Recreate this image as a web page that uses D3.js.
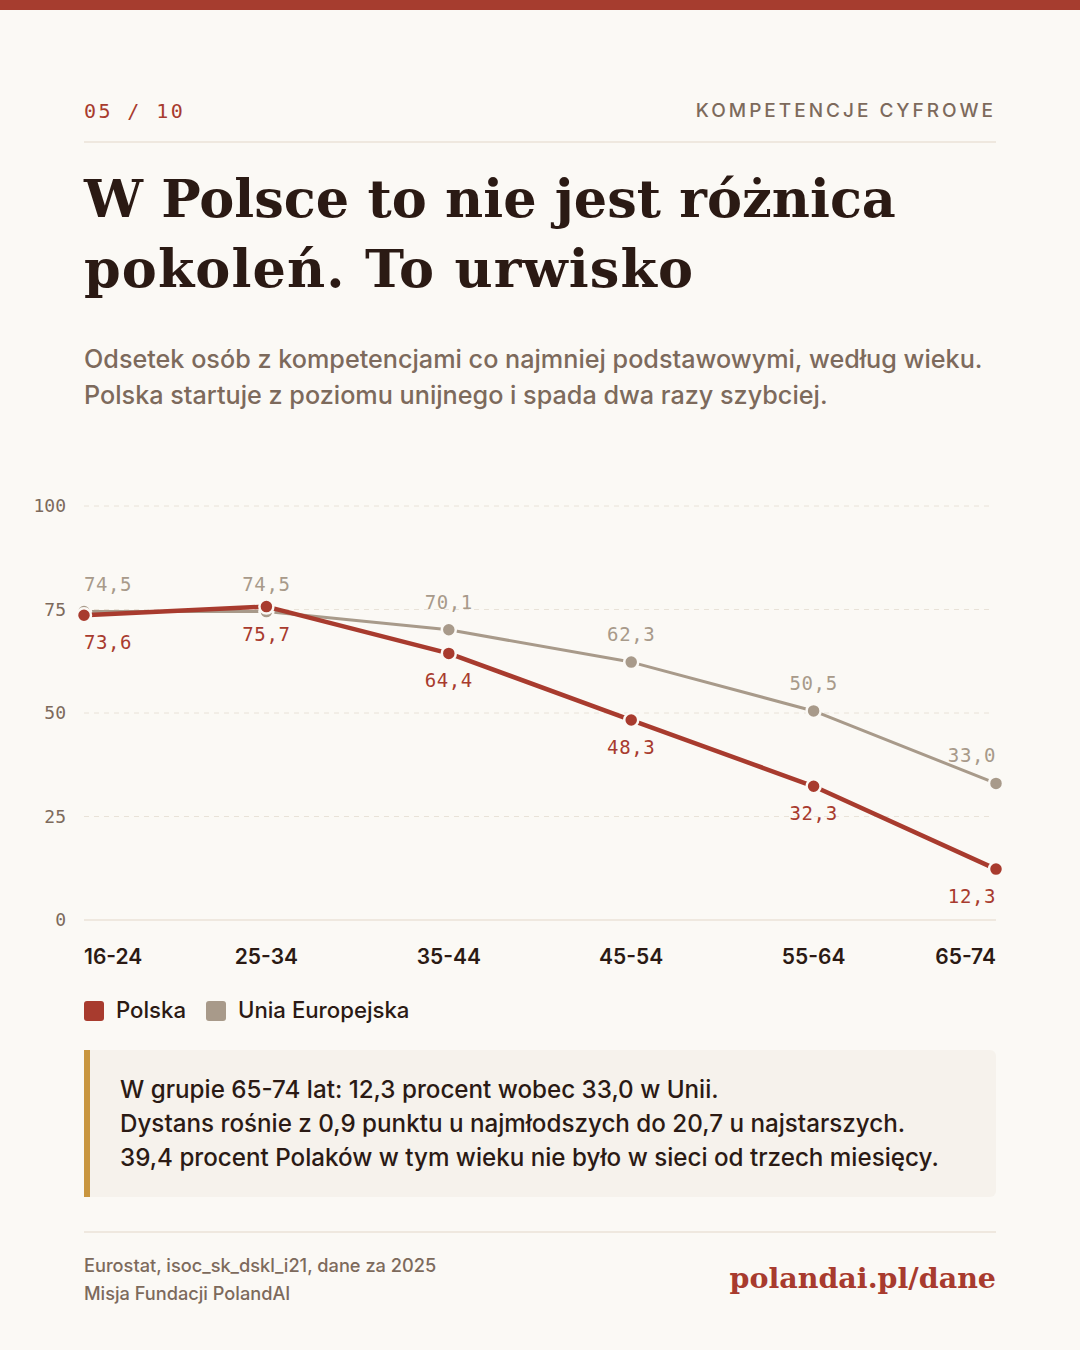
<!doctype html>
<html>
<head>
<meta charset="utf-8">
<script src="https://d3js.org/d3.v7.min.js"></script>
<style>
  html, body { margin: 0; padding: 0; background: #fbf9f5; }
  svg { display: block; }
  .mono { font-family: "DejaVu Sans Mono", monospace; }
  .sans { font-family: Inter, "Noto Sans", sans-serif; }
  .serif { font-family: "DejaVu Serif", serif; }
</style>
</head>
<body>
<svg width="1080" height="1350"></svg>
<script>
// data
const ageGroups = ["16-24", "25-34", "35-44", "45-54", "55-64", "65-74"];
const polska = [73.6, 75.7, 64.4, 48.3, 32.3, 12.3];
const unia = [74.5, 74.5, 70.1, 62.3, 50.5, 33.0];
const yTicks = [0, 25, 50, 75, 100];
const seriesNames = ["Polska", "Unia Europejska"];

const red = "#a83b2e", grey = "#a89a8a", ink = "#2b1a14", muted = "#7d6a5c";

const svg = d3.select("svg");

svg.append("rect").attr("x", 0).attr("y", 0).attr("width", 1080).attr("height", 10).attr("fill", "#a63d2f");

// header
svg.append("text").attr("class", "mono").attr("x", 84).attr("y", 118)
  .attr("font-size", 20).attr("fill", red).attr("letter-spacing", 2.4).text("05 / 10");
svg.append("text").attr("class", "sans").attr("x", 996).attr("y", 117)
  .attr("text-anchor", "end").attr("font-size", 19).attr("font-weight", 500)
  .attr("letter-spacing", 3).attr("fill", muted).text("KOMPETENCJE CYFROWE");
svg.append("line").attr("x1", 84).attr("x2", 996).attr("y1", 142).attr("y2", 142)
  .attr("stroke", "#efe8df").attr("stroke-width", 2);

// title
const titleLines = ["W Polsce to nie jest różnica", "pokoleń. To urwisko"];
const titleWidths = [812, 609];
const title = svg.append("g");
titleLines.forEach((t, i) => {
  title.append("text").attr("class", "serif").attr("x", 84).attr("y", 217 + i * 70)
    .attr("font-size", 58).attr("font-weight", 700).attr("fill", ink).text(t);
});
// fit first line to reference width, second with letter-spacing
const tnodes = title.selectAll("text").nodes();
const fs = 58 * titleWidths[0] / tnodes[0].getComputedTextLength();
title.selectAll("text").attr("font-size", fs);
const w1 = tnodes[1].getComputedTextLength();
d3.select(tnodes[1]).attr("letter-spacing", (titleWidths[1] - w1) / (titleLines[1].length - 1));

// subtitle
["Odsetek osób z kompetencjami co najmniej podstawowymi, według wieku.",
 "Polska startuje z poziomu unijnego i spada dwa razy szybciej."].forEach((t, i) => {
  svg.append("text").attr("class", "sans").attr("x", 84).attr("y", 368 + i * 36)
    .attr("font-size", 25.2).attr("font-weight", 500).attr("fill", muted).text(t);
});

// chart
const x = d3.scalePoint().domain(ageGroups).range([84, 996]);
const y = d3.scaleLinear().domain([0, 100]).range([920, 506]);

const grid = svg.append("g");
yTicks.forEach(v => {
  grid.append("line").attr("x1", 84).attr("x2", v === 0 ? 996 : 992)
    .attr("y1", y(v)).attr("y2", y(v))
    .attr("stroke", v === 0 ? "#efe8df" : "#e9e2d8")
    .attr("stroke-width", v === 0 ? 2 : 1)
    .attr("stroke-dasharray", v === 0 ? null : "5,5");
  grid.append("text").attr("class", "mono").attr("x", 66).attr("y", y(v) + 6)
    .attr("text-anchor", "end").attr("font-size", 18).attr("fill", muted).text(v);
});

const anchorFor = i => i === 0 ? "start" : (i === ageGroups.length - 1 ? "end" : "middle");

ageGroups.forEach((g, i) => {
  svg.append("text").attr("class", "sans").attr("x", x(g)).attr("y", 964)
    .attr("text-anchor", anchorFor(i)).attr("font-size", 21).attr("font-weight", 600)
    .attr("fill", ink).text(g);
});

const line = d3.line().x((d, i) => x(ageGroups[i])).y(d => y(d));
const fmt = v => v.toFixed(1).replace(".", ",");

function drawSeries(vals, color, width, labelDy) {
  const g = svg.append("g");
  g.append("path").datum(vals).attr("d", line).attr("fill", "none")
    .attr("stroke", color).attr("stroke-width", width).attr("stroke-linejoin", "round");
  g.selectAll("circle").data(vals).join("circle")
    .attr("cx", (d, i) => x(ageGroups[i])).attr("cy", d => y(d)).attr("r", 7)
    .attr("fill", color).attr("stroke", "#fbf9f5").attr("stroke-width", 2.5);
  g.selectAll("text").data(vals).join("text").attr("class", "mono")
    .attr("x", (d, i) => x(ageGroups[i])).attr("y", d => y(d) + labelDy)
    .attr("text-anchor", (d, i) => anchorFor(i)).attr("font-size", 19)
    .attr("letter-spacing", 0.6).attr("fill", color).text(fmt);
}
drawSeries(unia, grey, 3, -21);
drawSeries(polska, red, 4.5, 34);

// legend
const legend = svg.append("g");
[[seriesNames[0], red, 84], [seriesNames[1], grey, 206]].forEach(([n, c, lx]) => {
  legend.append("rect").attr("x", lx).attr("y", 1001).attr("width", 20).attr("height", 20)
    .attr("rx", 3).attr("fill", c);
  legend.append("text").attr("class", "sans").attr("x", lx + 32).attr("y", 1018)
    .attr("font-size", 22.2).attr("font-weight", 500).attr("fill", ink).text(n);
});

// callout
svg.append("rect").attr("x", 84).attr("y", 1050).attr("width", 912).attr("height", 147)
  .attr("rx", 6).attr("fill", "#f6f2ec");
svg.append("rect").attr("x", 84).attr("y", 1050).attr("width", 6).attr("height", 147)
  .attr("fill", "#c9963f");
["W grupie 65-74 lat: 12,3 procent wobec 33,0 w Unii.",
 "Dystans rośnie z 0,9 punktu u najmłodszych do 20,7 u najstarszych.",
 "39,4 procent Polaków w tym wieku nie było w sieci od trzech miesięcy."].forEach((t, i) => {
  svg.append("text").attr("class", "sans").attr("x", 120).attr("y", 1098 + i * 34)
    .attr("font-size", 24.2).attr("font-weight", 500).attr("fill", ink).text(t);
});

// footer
svg.append("line").attr("x1", 84).attr("x2", 996).attr("y1", 1232).attr("y2", 1232)
  .attr("stroke", "#efe8df").attr("stroke-width", 2);
["Eurostat, isoc_sk_dskl_i21, dane za 2025", "Misja Fundacji PolandAI"].forEach((t, i) => {
  svg.append("text").attr("class", "sans").attr("x", 84).attr("y", 1272 + i * 28)
    .attr("font-size", 18.2).attr("font-weight", 500).attr("fill", muted).text(t);
});
svg.append("text").attr("class", "serif").attr("x", 996).attr("y", 1288)
  .attr("text-anchor", "end").attr("font-size", 28.5).attr("font-weight", 700)
  .attr("fill", red).text("polandai.pl/dane");
</script>
</body>
</html>
